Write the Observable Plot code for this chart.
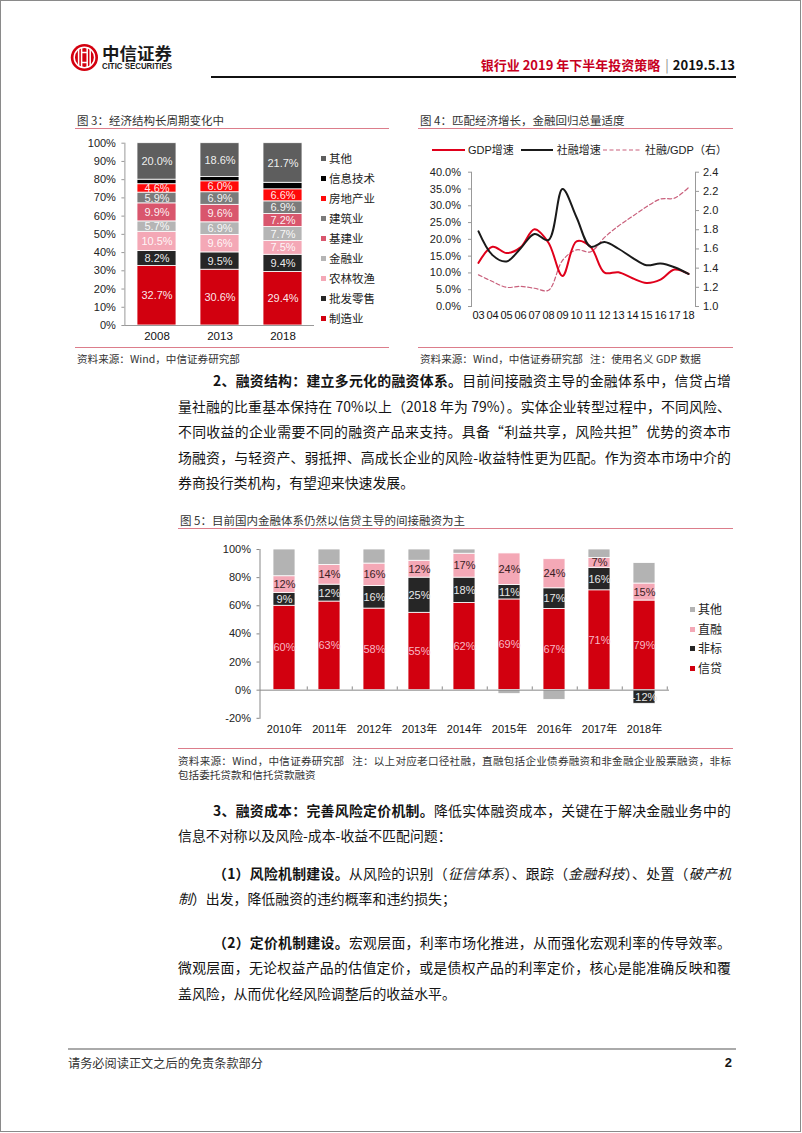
<!DOCTYPE html>
<html>
<head>
<meta charset="utf-8">
<script src="https://cdn.jsdelivr.net/npm/d3@7"></script>
<script src="https://cdn.jsdelivr.net/npm/@observablehq/plot@0.6"></script>
<style>
html,body{margin:0;padding:0;background:#fff;}
#page{position:relative;width:802px;height:1133px;overflow:hidden;font-family:"Noto Sans CJK SC",sans-serif;color:#141414;}
.abs{position:absolute;white-space:nowrap;}
.pageborder{position:absolute;left:0;top:0;width:799px;height:1130px;border:1px solid #8a8a8a;}
.ftitle{position:absolute;font-size:11.5px;color:#333;height:16px;line-height:16px;white-space:nowrap;}
.src{position:absolute;font-size:10.6px;color:#333;height:14px;line-height:14px;white-space:nowrap;}
.prule{position:absolute;height:0;border-top:1.5px solid #dc7d8b;}
.line{position:absolute;left:178px;width:553px;font-size:13.9px;height:24px;line-height:24px;white-space:nowrap;}
.ind{left:213px;width:518px;}
.just{text-align:justify;text-align-last:justify;}
.leg{position:absolute;height:14px;line-height:14px;white-space:nowrap;color:#222;}
.sq{display:inline-block;width:5px;height:5px;margin-right:3px;vertical-align:middle;position:relative;top:-1px;}
.chart{position:absolute;}
</style>
</head>
<body>
<div id="page">
  <div class="pageborder"></div>

  <!-- header -->
  <svg class="abs" style="left:68px;top:40px" width="112" height="34">
    <circle cx="16.4" cy="17.5" r="13.6" fill="#d4000f"/>
    <g stroke="#fff" stroke-width="1.5" fill="none">
      <circle cx="16.4" cy="17.5" r="10.2"/>
      <path d="M10.6 9.5 V25.5 M13.6 7.8 V27.2 M19.2 7.8 V27.2 M22.2 9.5 V25.5 M13.6 12.5 H19.2 M13.6 22.5 H19.2"/>
    </g>
    <text x="34" y="19.5" font-size="16.5" font-weight="bold" font-family="Noto Sans CJK SC" fill="#1a1a1a" textLength="70" lengthAdjust="spacingAndGlyphs">中信证券</text>
    <text x="34" y="29" font-size="8.2" font-weight="bold" font-family="Liberation Sans Narrow, Liberation Sans, sans-serif" fill="#1a1a1a" textLength="70" lengthAdjust="spacingAndGlyphs">CITIC SECURITIES</text>
  </svg>
  <div class="abs" style="right:67px;top:57px;font-size:13px;font-weight:bold;line-height:16px;height:16px;">
    <span style="color:#c8001e">银行业 2019 年下半年投资策略</span><span style="color:#888;font-weight:normal;margin:0 4px 0 5px;">|</span><span style="color:#111">2019.5.13</span>
  </div>
  <div class="abs" style="left:211px;top:75.5px;width:525px;height:2.5px;background:#111;"></div>

  <!-- figure 3 / 4 titles -->
  <div class="ftitle" style="left:77px;top:112px;">图 3：经济结构长周期变化中</div>
  <div class="prule" style="left:75px;top:128px;width:314px;"></div>
  <div class="ftitle" style="left:420px;top:112px;">图 4：匹配经济增长，金融回归总量适度</div>
  <div class="prule" style="left:418px;top:128px;width:315px;"></div>

  <div id="fig3" class="chart" style="left:70px;top:132px;"></div>
  <div id="fig3legend"></div>
  <div id="fig4legend"></div>
  <div id="fig4" class="chart" style="left:415px;top:160px;"></div>

  <div class="prule" style="left:75px;top:346.5px;width:314px;"></div>
  <div class="prule" style="left:418px;top:346.5px;width:315px;"></div>
  <div class="src" style="left:77px;top:352px;">资料来源：Wind，中信证券研究部</div>
  <div class="src" style="left:420px;top:352px;">资料来源：Wind，中信证券研究部&nbsp;&nbsp;&nbsp;注：使用名义 GDP 数据</div>

  <!-- paragraph 2 -->
  <div class="line ind just" style="top:368px;"><b>2、融资结构：建立多元化的融资体系。</b>目前间接融资主导的金融体系中，信贷占增</div>
  <div class="line just" style="top:393.5px;">量社融的比重基本保持在 70%以上（2018 年为 79%）。实体企业转型过程中，不同风险、</div>
  <div class="line just" style="top:419px;">不同收益的企业需要不同的融资产品来支持。具备“利益共享，风险共担”优势的资本市</div>
  <div class="line just" style="top:444.5px;">场融资，与轻资产、弱抵押、高成长企业的风险-收益特性更为匹配。作为资本市场中介的</div>
  <div class="line" style="top:470px;">券商投行类机构，有望迎来快速发展。</div>

  <!-- figure 5 -->
  <div class="ftitle" style="left:180px;top:512px;">图 5：目前国内金融体系仍然以信贷主导的间接融资为主</div>
  <div class="prule" style="left:178px;top:527.5px;width:555px;"></div>
  <div id="fig5" class="chart" style="left:180px;top:538px;"></div>
  <div id="fig5legend"></div>
  <div class="prule" style="left:178px;top:747.5px;width:555px;"></div>
  <div class="src just" style="left:178px;top:754px;width:553px;">资料来源：Wind，中信证券研究部&nbsp;&nbsp;&nbsp;注：以上对应老口径社融，直融包括企业债券融资和非金融企业股票融资，非标</div>
  <div class="src" style="left:178px;top:768px;">包括委托贷款和信托贷款融资</div>

  <!-- paragraph 3 -->
  <div class="line ind just" style="top:797.5px;"><b>3、融资成本：完善风险定价机制。</b>降低实体融资成本，关键在于解决金融业务中的</div>
  <div class="line" style="top:823px;">信息不对称以及风险-成本-收益不匹配问题：</div>
  <div class="line ind just" style="top:860.5px;"><b>（1）风险机制建设。</b>从风险的识别（<i>征信体系</i>）、跟踪（<i>金融科技</i>）、处置（<i>破产机</i></div>
  <div class="line" style="top:886px;"><i>制</i>）出发，降低融资的违约概率和违约损失；</div>
  <div class="line ind just" style="top:929.5px;"><b>（2）定价机制建设。</b>宏观层面，利率市场化推进，从而强化宏观利率的传导效率。</div>
  <div class="line just" style="top:955px;">微观层面，无论权益产品的估值定价，或是债权产品的利率定价，核心是能准确反映和覆</div>
  <div class="line" style="top:980.5px;">盖风险，从而优化经风险调整后的收益水平。</div>

  <!-- footer -->
  <div class="abs" style="left:68px;top:1048px;width:668px;height:2px;background:#aaa;"></div>
  <div class="abs" style="left:68px;top:1055px;font-size:12.2px;line-height:16px;height:16px;color:#333;">请务必阅读正文之后的免责条款部分</div>
  <div class="abs" style="right:70px;top:1054px;font-size:13px;font-weight:bold;line-height:17px;height:17px;font-family:'Liberation Sans',sans-serif;">2</div>
</div>

<script>
const FONT = '"Liberation Sans", Arial, "Noto Sans CJK SC", sans-serif';

// ================= Figure 3: economic structure (% of GDP) =================
const fig3Years = ["2008", "2013", "2018"];
const fig3Sectors = ["制造业", "批发零售", "农林牧渔", "金融业", "基建业", "建筑业", "房地产业", "信息技术", "其他"];
const fig3Manufacturing = [32.7, 30.6, 29.4];
const fig3Wholesale = [8.2, 9.5, 9.4];
const fig3Agriculture = [10.5, 9.6, 7.5];
const fig3Finance = [5.7, 6.9, 7.7];
const fig3Infrastructure = [9.9, 9.6, 7.2];
const fig3Construction = [5.9, 6.9, 6.9];
const fig3RealEstate = [4.6, 6.0, 6.6];
const fig3InfoTech = [2.5, 2.3, 3.6];
const fig3Other = [20.0, 18.6, 21.7];
const fig3YTicks = [0, 10, 20, 30, 40, 50, 60, 70, 80, 90, 100];

// ================= Figure 4: growth rates =================
const fig4Years = ["03", "04", "05", "06", "07", "08", "09", "10", "11", "12", "13", "14", "15", "16", "17", "18"];
const fig4GdpGrowth = [13.0, 17.8, 15.9, 17.6, 23.0, 19.0, 9.1, 19.4, 17.8, 10.1, 10.2, 8.4, 7.0, 8.0, 11.0, 9.7];
const fig4TsfGrowth = [22.4, 15.3, 13.4, 17.3, 21.6, 19.8, 35.0, 26.6, 17.8, 19.2, 17.2, 14.5, 12.3, 12.8, 11.7, 9.7];
const fig4TsfToGdp = [1.33, 1.26, 1.20, 1.21, 1.19, 1.17, 1.48, 1.59, 1.57, 1.72, 1.84, 1.94, 2.04, 2.12, 2.13, 2.24];
const fig4LeftTicks = [0, 5, 10, 15, 20, 25, 30, 35, 40];
const fig4RightTicks = [1.0, 1.2, 1.4, 1.6, 1.8, 2.0, 2.2, 2.4];
const fig4Labels = ["GDP增速", "社融增速", "社融/GDP（右）"];

// ================= Figure 5: financing structure (share of new TSF, %) =================
const fig5Years = ["2010年", "2011年", "2012年", "2013年", "2014年", "2015年", "2016年", "2017年", "2018年"];
const fig5Series = ["信贷", "非标", "直融", "其他"];
const fig5Loans = [60, 63, 58, 55, 62, 69, 67, 71, 79];
const fig5NonStandard = [9, 12, 16, 25, 18, 11, 17, 16, -12];
const fig5Direct = [12, 14, 16, 12, 17, 24, 24, 7, 15];
const fig5Other = [19, 11, 10, 8, 3, -3, -8, 6, 18];
const fig5YTicks = [-20, 0, 20, 40, 60, 80, 100];

// ---------- styles ----------
const fig3Palette = ["#d2000f", "#262626", "#f4a8b6", "#b5b5b5", "#d9566d", "#7b7b7b", "#ff0a0a", "#000000", "#5e5e5e"];
const fig5Palette = ["#d2000f", "#262626", "#f4a8b6", "#b3b3b3"];

// ================= Figure 3 =================
(function () {
  const values = [fig3Manufacturing, fig3Wholesale, fig3Agriculture, fig3Finance, fig3Infrastructure,
                  fig3Construction, fig3RealEstate, fig3InfoTech, fig3Other];
  const data = [];
  fig3Sectors.forEach((s, si) => fig3Years.forEach((y, i) => data.push({year: y, sector: s, value: values[si][i]})));
  const chart = Plot.plot({
    width: 250, height: 213,
    marginLeft: 54.4, marginRight: 6, marginTop: 10.7, marginBottom: 20,
    style: {fontFamily: FONT, fontSize: "11px", color: "#222", background: "none", overflow: "visible"},
    x: {type: "band", domain: fig3Years, paddingInner: 0.375, paddingOuter: 0.1875, label: null},
    y: {domain: [0, 100], label: null},
    color: {domain: fig3Sectors, range: fig3Palette},
    marks: [
      Plot.barY(data, Plot.stackY({x: "year", y: "value", fill: "sector", order: fig3Sectors, stroke: "white", strokeWidth: 0.8})),
      Plot.text(data, Plot.filter(d => d.sector !== "信息技术",
        Plot.stackY({x: "year", y: "value", z: "sector", order: fig3Sectors,
          text: d => d.value.toFixed(1) + "%", fill: "white", fillOpacity: 0.92, fontSize: 11}))),
      Plot.ruleY([0], {stroke: "#999"}),
      Plot.frame({anchor: "left", stroke: "#999"}),
      Plot.axisY({ticks: fig3YTicks, tickFormat: d => d + "%", tickSize: 3, tickPadding: 6, stroke: "#999", fill: "#222"}),
      Plot.axisX({tickSize: 0, tickPadding: 6, fill: "#111", fontSize: 11.5})
    ]
  });
  document.getElementById("fig3").appendChild(chart);

  // legend (top to bottom: reverse stacking order)
  const leg = document.getElementById("fig3legend");
  const order = fig3Sectors.slice().reverse();
  order.forEach((s, i) => {
    const c = fig3Palette[fig3Sectors.indexOf(s)];
    const el = document.createElement("div");
    el.className = "leg";
    el.style.left = "321px";
    el.style.top = (150.7 + i * 20) + "px";
    el.style.fontSize = "11.5px";
    el.innerHTML = `<span class="sq" style="background:${c}"></span>${s}`;
    leg.appendChild(el);
  });
})();

// ================= Figure 4 =================
(function () {
  const toLeft = r => (r - 1.0) / 1.4 * 40;
  const toRight = v => v / 40 * 1.4 + 1.0;
  const data = fig4Years.map((y, i) => ({year: y, gdp: fig4GdpGrowth[i], tsf: fig4TsfGrowth[i], ratio: fig4TsfToGdp[i]}));
  const chart = Plot.plot({
    width: 310, height: 166,
    marginLeft: 56, marginRight: 30, marginTop: 11.7, marginBottom: 20,
    style: {fontFamily: FONT, fontSize: "11px", color: "#222", background: "none", overflow: "visible"},
    x: {type: "point", domain: fig4Years, padding: 0.5, label: null},
    y: {domain: [0, 40], label: null},
    marks: [
      Plot.frame({anchor: "left", stroke: "#999"}),
      Plot.frame({anchor: "right", stroke: "#999"}),
      Plot.lineY(data, {x: "year", y: d => toLeft(d.ratio), stroke: "#c9607c", strokeWidth: 1.2, strokeDasharray: "4 2.5", curve: "catmull-rom"}),
      Plot.lineY(data, {x: "year", y: "gdp", stroke: "#e0001b", strokeWidth: 2, curve: "catmull-rom"}),
      Plot.lineY(data, {x: "year", y: "tsf", stroke: "#1a1a1a", strokeWidth: 2, curve: "catmull-rom"}),
      Plot.axisY({anchor: "left", ticks: fig4LeftTicks, tickFormat: d => d.toFixed(1) + "%", tickSize: 3, tickPadding: 7.5, stroke: "#999", fill: "#222"}),
      Plot.axisY({anchor: "right", ticks: fig4RightTicks.map(toLeft), tickFormat: v => toRight(v).toFixed(1), tickSize: 3, tickPadding: 4.5, stroke: "#999", fill: "#222"}),
      Plot.axisX({tickSize: 0, tickPadding: 5, fill: "#111", fontSize: 11})
    ]
  });
  document.getElementById("fig4").appendChild(chart);

  const leg = document.getElementById("fig4legend");
  const items = [
    {x: 431.7, w: 33.3, tx: 468, stroke: "#e0001b", sw: 2, dash: ""},
    {x: 521, w: 32, tx: 556.7, stroke: "#1a1a1a", sw: 2, dash: ""},
    {x: 603, w: 39, tx: 645, stroke: "#c9607c", sw: 1.2, dash: "4 2.5"}
  ];
  items.forEach((it, i) => {
    const s = document.createElementNS("http://www.w3.org/2000/svg", "svg");
    s.setAttribute("width", it.w); s.setAttribute("height", 6);
    s.style.position = "absolute"; s.style.left = it.x + "px"; s.style.top = "147px";
    s.innerHTML = `<line x1="0" x2="${it.w}" y1="3" y2="3" stroke="${it.stroke}" stroke-width="${it.sw}" stroke-dasharray="${it.dash}"/>`;
    leg.appendChild(s);
    const t = document.createElement("div");
    t.className = "leg";
    t.style.left = it.tx + "px"; t.style.top = "143px"; t.style.fontSize = "11px";
    t.style.fontFamily = FONT;
    t.textContent = fig4Labels[i];
    leg.appendChild(t);
  });
})();

// ================= Figure 5 =================
(function () {
  const values = [fig5Loans, fig5NonStandard, fig5Direct, fig5Other];
  const data = [];
  fig5Years.forEach((y, i) => {
    // Excel's 100% stacked column: each value divided by the sum of absolute values
    const total = d3.sum(values, v => Math.abs(v[i]));
    fig5Series.forEach((s, si) => data.push({year: y, series: s, raw: values[si][i], share: values[si][i] / total * 100}));
  });
  const label = (name, color) => Plot.text(data, Plot.filter(d => d.series === name,
    Plot.stackY({x: "year", y: "share", z: "series", order: fig5Series, text: d => d.raw + "%", fill: color, fontSize: 11})));
  const chart = Plot.plot({
    width: 500, height: 202,
    marginLeft: 79.5, marginRight: 11, marginTop: 11, marginBottom: 22.2,
    style: {fontFamily: FONT, fontSize: "11px", color: "#222", background: "none", overflow: "visible"},
    x: {type: "band", domain: fig5Years, paddingInner: 0.51, paddingOuter: 0.255, label: null},
    y: {domain: [-20, 100], label: null},
    color: {domain: fig5Series, range: fig5Palette},
    marks: [
      Plot.barY(data, Plot.stackY({x: "year", y: "share", fill: "series", order: fig5Series, stroke: "white", strokeWidth: 0.8})),
      label("信贷", "#f7b8c4"),
      label("非标", "#e8e8e8"),
      label("直融", "#3a1d24"),
      Plot.ruleY([0], {stroke: "#888"}),
      Plot.ruleX(fig5Years, {x: d => d, dx: 22.75, y1: 0, y2: 2.3, stroke: "#888"}),
      Plot.frame({anchor: "left", stroke: "#888"}),
      Plot.axisY({ticks: fig5YTicks, tickFormat: d => d + "%", tickSize: 3, tickPadding: 6, stroke: "#888", fill: "#222"}),
      Plot.axisX({tickSize: 0, tickPadding: 6.5, fill: "#111", fontSize: 11})
    ]
  });
  document.getElementById("fig5").appendChild(chart);

  const leg = document.getElementById("fig5legend");
  fig5Series.slice().reverse().forEach((s, i) => {
    const el = document.createElement("div");
    el.className = "leg";
    el.style.left = "690px";
    el.style.top = (602 + i * 19.6) + "px";
    el.style.fontSize = "12px";
    el.innerHTML = `<span class="sq" style="background:${fig5Palette[fig5Series.indexOf(s)]}"></span>${s}`;
    leg.appendChild(el);
  });
})();
</script>
</body>
</html>
